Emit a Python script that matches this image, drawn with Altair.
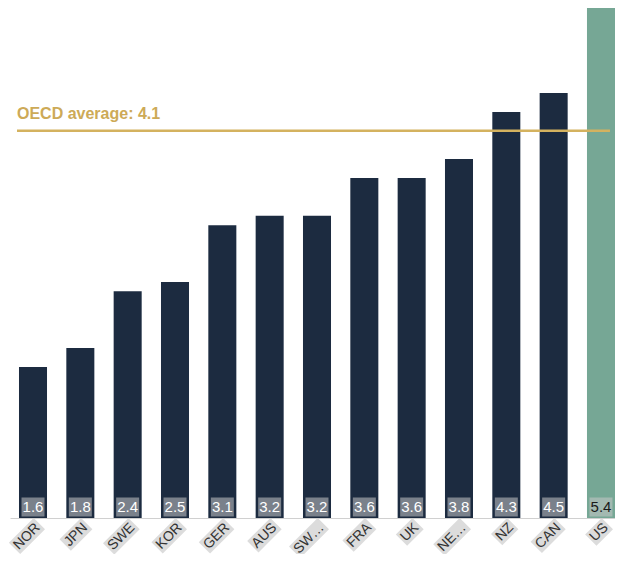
import altair as alt
import pandas as pd

countries = ["NOR", "JPN", "SWE", "KOR", "GER", "AUS", "SW…", "FRA", "UK", "NE…", "NZ", "CAN", "US"]
values = [1.6, 1.8, 2.4, 2.5, 3.1, 3.2, 3.2, 3.6, 3.6, 3.8, 4.3, 4.5, 5.4]
value_labels = ["1.6", "1.8", "2.4", "2.5", "3.1", "3.2", "3.2", "3.6", "3.6", "3.8", "4.3", "4.5", "5.4"]
oecd_avg = 4.1
oecd_text = "OECD average: 4.1"

# approximate Arial advance widths (per 1000 em) for label background boxes
W = {"N": 722, "O": 778, "R": 722, "J": 500, "P": 667, "S": 667, "W": 944, "E": 667,
     "K": 667, "G": 778, "A": 667, "U": 722, "F": 611, "Z": 611, "C": 722, "…": 1000}
FS = 14


def box_path(label):
    w = sum(W.get(c, 667) for c in label) * FS / 1000.0
    return f"M{-(w + 2):.1f},-1H2V15H{-(w + 2):.1f}Z"


df = pd.DataFrame({
    "country": countries,
    "value": values,
    "vlabel": value_labels,
    "path": [box_path(c) for c in countries],
})

font = "Liberation Sans, Arial, Helvetica, sans-serif"
is_us = alt.datum.country == "US"

xscale = alt.Scale(domain=countries, paddingInner=0.408, paddingOuter=0.095, align=1.0)
yscale = alt.Scale(domain=[0, 5.4], nice=False, zero=True)

base = alt.Chart(df)

x_enc = alt.X("country:N", sort=countries, scale=xscale, title=None,
              axis=alt.Axis(labelAngle=-45, labelAlign="right", labelBaseline="top",
                            labelPadding=2, ticks=False, tickSize=0, domainColor="#d0d0d0",
                            labelFont=font, labelFontSize=FS, labelColor="#333333",
                            zindex=1, grid=False))

bars = base.mark_bar().encode(
    x=x_enc,
    y=alt.Y("value:Q", scale=yscale, axis=None),
    color=alt.condition(is_us, alt.value("#76a795"), alt.value("#1c2b40")),
)

label_boxes = base.mark_point(filled=True, size=4, angle=315, opacity=1, strokeWidth=0,
                              yOffset=2, color="#dcdcdc").encode(
    x=alt.X("country:N", sort=countries, scale=xscale),
    y=alt.YDatum(0, scale=yscale),
    shape=alt.Shape("path:N", scale=None, legend=None),
)

value_boxes = base.mark_point(filled=True, size=4, shape="M-11.5,-9.5H11.5V9.5H-11.5Z",
                              opacity=0.55, strokeWidth=0, yOffset=-11, color="#c8c8c8").encode(
    x=alt.X("country:N", sort=countries, scale=xscale),
    y=alt.YDatum(0, scale=yscale),
)

value_text = base.mark_text(font=font, fontSize=15, baseline="middle", align="center",
                            dy=-11).encode(
    x=alt.X("country:N", sort=countries, scale=xscale),
    y=alt.YDatum(0, scale=yscale),
    text="vlabel:N",
    color=alt.condition(is_us, alt.value("#1a1a1a"), alt.value("#ffffff")),
)

avg_df = pd.DataFrame({"avg": [oecd_avg], "label": [oecd_text]})
rule = alt.Chart(avg_df).mark_rule(color="#d4b25f", strokeWidth=2.5, xOffset=-2, x2Offset=9).encode(
    x=alt.XDatum(countries[0], scale=xscale, bandPosition=0),
    x2=alt.X2Datum(countries[-1]),
    y=alt.Y("avg:Q", scale=yscale),
)
avg_text = alt.Chart(avg_df).mark_text(font=font, fontSize=16, fontWeight="bold",
                                       color="#cdaa57", align="left", baseline="alphabetic",
                                       dx=-16, dy=-12).encode(
    x=alt.XDatum(countries[0], scale=xscale),
    y=alt.Y("avg:Q", scale=yscale),
    text="label:N",
)

chart = alt.layer(bars, value_boxes, value_text, rule, avg_text, label_boxes).properties(
    width=605, height=510,
    autosize=alt.AutoSizeParams(type="none"),
    padding={"left": 2, "top": 0, "right": 0, "bottom": 36},
).configure_view(stroke=None)

chart.save("out.html", embed_options={"renderer": "svg", "actions": False})
